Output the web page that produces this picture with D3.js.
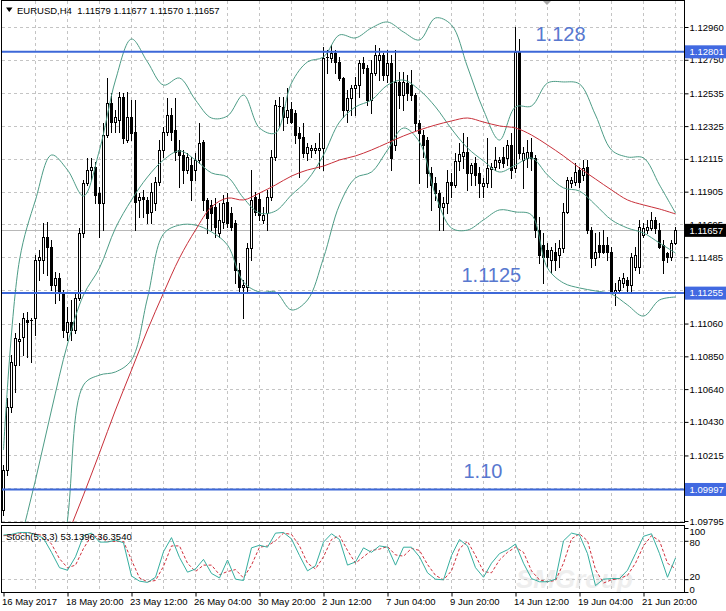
<!DOCTYPE html>
<html><head><meta charset="utf-8">
<script src="https://cdn.jsdelivr.net/npm/d3@7"></script>
<style>body{margin:0;background:#fff}svg{display:block;font-family:"Liberation Sans",Arial,sans-serif}</style>
</head><body>
<svg id="c" width="726" height="611"></svg>
<script>
// ---------- DATA ----------
const symbolTitle = "EURUSD,H4  1.11579 1.11677 1.11570 1.11657";
const stochTitle = "Stoch(5,3,3) 53.1396 36.3540";
const open = [
1.09865,1.10122,1.10525,1.10794,1.10948,1.10974,1.11083,1.11076,1.11096,1.11467,
1.11467,1.11615,1.11551,1.11307,1.11352,1.11256,1.11006,1.11070,1.11019,1.11224,
1.11640,1.11961,1.12044,1.12063,1.11896,1.11832,1.12268,1.12473,1.12351,1.12364,
1.12512,1.12236,1.12383,1.12287,1.11852,1.11871,1.11852,1.11775,1.11832,1.11967,
1.12172,1.12287,1.12396,1.12300,1.12172,1.12140,1.12044,1.12076,1.12044,1.12108,
1.12223,1.11852,1.11820,1.11807,1.11640,1.11711,1.11839,1.11768,1.11704,1.11403,
1.11294,1.11294,1.11544,1.11871,1.11858,1.11724,1.11768,1.11871,1.12127,1.12448,
1.12448,1.12383,1.12435,1.12409,1.12281,1.12255,1.12153,1.12172,1.12172,1.12172,
1.12185,1.12761,1.12761,1.12793,1.12736,1.12633,1.12428,1.12505,1.12569,1.12588,
1.12729,1.12697,1.12492,1.12665,1.12749,1.12781,1.12653,1.12729,1.12204,1.12608,
1.12524,1.12601,1.12588,1.12524,1.12345,1.12268,1.12236,1.12025,1.11961,1.11896,
1.11807,1.11832,1.11967,1.11948,1.12102,1.12134,1.12159,1.12025,1.12089,1.12025,
1.11941,1.11961,1.12050,1.12063,1.12095,1.12127,1.12121,1.12204,1.12057,1.12800,
1.12108,1.12121,1.12159,1.12121,1.11659,1.11563,1.11531,1.11467,1.11518,1.11499,
1.11544,1.11775,1.11961,1.11967,1.12044,1.12012,1.12063,1.11659,1.11480,1.11563,
1.11563,1.11563,1.11518,1.11256,1.11275,1.11320,1.11339,1.11307,1.11422,1.11422,
1.11627,1.11659,1.11672,1.11724,1.11659,1.11563,1.11512,1.11486,1.11579];
const high = [
1.10154,1.10583,1.10859,1.11000,1.11064,1.11128,1.11134,1.11096,1.11499,1.11531,
1.11704,1.11711,1.11595,1.11390,1.11384,1.11275,1.11166,1.11211,1.11256,1.11672,
1.11980,1.12121,1.12121,1.12095,1.11935,1.12345,1.12633,1.12537,1.12428,1.12544,
1.12537,1.12544,1.12492,1.12492,1.11896,1.11916,1.11871,1.11961,1.11999,1.12236,
1.12319,1.12505,1.12441,1.12505,1.12236,1.12172,1.12153,1.12127,1.12153,1.12345,
1.12236,1.11864,1.11852,1.11864,1.11832,1.11884,1.11896,1.11807,1.11724,1.11448,
1.11339,1.11576,1.12044,1.11903,1.11896,1.11807,1.11916,1.12172,1.12492,1.12512,
1.12512,1.12569,1.12480,1.12428,1.12319,1.12345,1.12217,1.12204,1.12217,1.12281,
1.12832,1.12813,1.12845,1.12813,1.12768,1.12640,1.12556,1.12588,1.12640,1.12749,
1.12768,1.12717,1.12749,1.12845,1.12826,1.12793,1.12813,1.12781,1.12813,1.12672,
1.12672,1.12653,1.12685,1.12537,1.12364,1.12300,1.12255,1.12063,1.11999,1.11916,
1.11871,1.12044,1.12025,1.12153,1.12217,1.12281,1.12255,1.12089,1.12127,1.12063,
1.11993,1.12249,1.12089,1.12191,1.12127,1.12191,1.12236,1.12281,1.12960,1.12883,
1.12191,1.12236,1.12249,1.12140,1.11743,1.11640,1.11576,1.11551,1.11576,1.11595,
1.11832,1.11999,1.11999,1.12089,1.12063,1.12108,1.12108,1.11679,1.11640,1.11647,
1.11659,1.11615,1.11551,1.11320,1.11358,1.11384,1.11358,1.11512,1.11551,1.11724,
1.11704,1.11724,1.11775,1.11743,1.11704,1.11595,1.11518,1.11595,1.11677];
const low = [
1.09833,1.10090,1.10493,1.10622,1.10794,1.10859,1.10846,1.10814,1.10987,1.11339,
1.11384,1.11371,1.11275,1.11192,1.11211,1.10974,1.10955,1.10955,1.11000,1.11211,
1.11615,1.11948,1.11980,1.11832,1.11615,1.11659,1.12255,1.12287,1.12287,1.12287,
1.12217,1.12223,1.12236,1.11659,1.11743,1.11743,1.11704,1.11704,1.11788,1.11948,
1.12127,1.12268,1.12236,1.12108,1.11935,1.11961,1.12025,1.11852,1.11980,1.12089,
1.11788,1.11640,1.11659,1.11615,1.11615,1.11672,1.11679,1.11659,1.11320,1.11256,
1.11096,1.11256,1.11467,1.11756,1.11724,1.11704,1.11659,1.11852,1.12108,1.12319,
1.12300,1.12345,1.12345,1.12217,1.11999,1.12127,1.12108,1.12127,1.12153,1.12057,
1.12044,1.12665,1.12736,1.12665,1.12620,1.12383,1.12351,1.12396,1.12396,1.12512,
1.12665,1.12460,1.12409,1.12653,1.12620,1.12620,1.12608,1.12044,1.12172,1.12441,
1.12428,1.12492,1.12492,1.12300,1.11961,1.12127,1.11935,1.11788,1.11852,1.11659,
1.11659,1.11768,1.11871,1.11935,1.12044,1.12057,1.11916,1.11948,1.11948,1.11871,
1.11871,1.11935,1.11935,1.12044,1.12057,1.12063,1.12076,1.11993,1.12031,1.12121,
1.11929,1.12063,1.12044,1.11615,1.11448,1.11320,1.11422,1.11384,1.11403,1.11422,
1.11518,1.11768,1.11935,1.11948,1.11935,1.11980,1.11640,1.11422,1.11435,1.11486,
1.11512,1.11467,1.11256,1.11179,1.11256,1.11294,1.11262,1.11262,1.11403,1.11384,
1.11615,1.11640,1.11659,1.11640,1.11544,1.11384,1.11454,1.11467,1.11570];
const close = [
1.10122,1.10525,1.10814,1.10967,1.10961,1.11096,1.11070,1.11083,1.11467,1.11486,
1.11615,1.11551,1.11307,1.11352,1.11256,1.11019,1.11070,1.11019,1.11224,1.11640,
1.11961,1.12044,1.12063,1.11884,1.11832,1.12268,1.12473,1.12351,1.12383,1.12512,
1.12249,1.12383,1.12281,1.11839,1.11871,1.11858,1.11768,1.11903,1.11967,1.12172,
1.12287,1.12396,1.12287,1.12159,1.12140,1.12044,1.12127,1.11980,1.12108,1.12217,
1.11852,1.11736,1.11768,1.11679,1.11724,1.11832,1.11704,1.11679,1.11403,1.11294,
1.11307,1.11544,1.11852,1.11775,1.11756,1.11756,1.11871,1.12127,1.12460,1.12454,
1.12383,1.12428,1.12351,1.12268,1.12249,1.12153,1.12191,1.12185,1.12185,1.12185,
1.12761,1.12768,1.12793,1.12736,1.12633,1.12428,1.12505,1.12569,1.12588,1.12729,
1.12697,1.12492,1.12665,1.12781,1.12781,1.12653,1.12729,1.12121,1.12608,1.12524,
1.12608,1.12537,1.12524,1.12345,1.12281,1.12204,1.12025,1.11948,1.11896,1.11807,
1.11832,1.11967,1.11948,1.12102,1.12146,1.12159,1.12025,1.12076,1.12012,1.11961,
1.11961,1.12057,1.12063,1.12108,1.12108,1.12089,1.12204,1.12044,1.12800,1.12153,
1.12153,1.12159,1.12121,1.11659,1.11499,1.11486,1.11486,1.11531,1.11467,1.11544,
1.11775,1.11980,1.11980,1.12031,1.11967,1.12057,1.11659,1.11480,1.11518,1.11518,
1.11518,1.11518,1.11262,1.11275,1.11339,1.11352,1.11307,1.11486,1.11499,1.11679,
1.11672,1.11679,1.11724,1.11672,1.11551,1.11467,1.11486,1.11576,1.11657];

// Bollinger bands and red moving average, read every 4th bar
const bandEvery = 4;
const bbUpper = [1.10250,1.11467,1.11852,1.12140,1.12044,1.11877,1.12172,1.12620,1.12883,1.12736,
1.12588,1.12633,1.12492,1.12377,1.12390,1.12524,1.12313,1.12281,1.12601,1.12736,
1.12768,1.12909,1.12890,1.12954,1.12992,1.12928,1.12877,1.13018,1.12973,1.12704,
1.12428,1.12236,1.12448,1.12454,1.12601,1.12608,1.12595,1.12396,1.12172,1.12127,
1.12121,1.11948,1.11768];
const bbMiddle = [1.09225,1.09641,1.10058,1.10506,1.10929,1.11243,1.11416,1.11672,1.11852,1.11999,
1.12108,1.12166,1.12108,1.12025,1.11999,1.11864,1.11768,1.11781,1.11884,1.11980,
1.12140,1.12351,1.12448,1.12492,1.12588,1.12620,1.12556,1.12448,1.12307,1.12185,
1.12102,1.12031,1.12076,1.12121,1.12012,1.11929,1.11909,1.11820,1.11724,1.11672,
1.11640,1.11576,1.11512];
const bbLower = [1.07367,1.08007,1.08520,1.09033,1.09801,1.10666,1.10730,1.10750,1.10827,1.11224,
1.11634,1.11691,1.11691,1.11647,1.11563,1.11326,1.11262,1.11262,1.11147,1.11211,
1.11480,1.11820,1.11993,1.12031,1.12172,1.12313,1.12223,1.11884,1.11672,1.11659,
1.11724,1.11788,1.11775,1.11756,1.11416,1.11320,1.11288,1.11269,1.11249,1.11179,
1.11108,1.11211,1.11230];
const maRed = [1.08648,1.08904,1.09161,1.09449,1.09705,1.09962,1.10231,1.10506,1.10762,1.11019,
1.11256,1.11480,1.11659,1.11807,1.11864,1.11852,1.11896,1.11948,1.12005,1.12044,
1.12069,1.12108,1.12134,1.12172,1.12217,1.12262,1.12300,1.12332,1.12358,1.12377,
1.12351,1.12326,1.12313,1.12268,1.12204,1.12134,1.12057,1.11986,1.11916,1.11852,
1.11820,1.11794,1.11762];

// Stochastic, read every 2nd bar
const stochEvery = 2;
const stochK = [89,90,93,93,90,84,62,38,34,55,88,92,78,78,81,77,25,17,15,23,
63,85,54,31,36,51,29,22,50,20,18,69,73,70,92,93,83,57,33,41,
78,91,82,42,47,69,62,72,70,42,70,70,55,30,20,19,57,82,72,38,
23,45,60,66,75,45,21,16,16,20,80,92,89,60,10,20,21,21,34,60,
87,91,60,23,53.14];
const stochD = [88,89,91,93,91,88,75,52,38,42,68,88,86,79,79,79,50,22,16,18,
40,72,72,45,32,42,42,27,32,35,22,42,70,72,80,92,90,72,45,36,
55,82,88,65,45,55,65,67,71,58,56,68,65,43,26,19,33,68,79,57,
32,30,50,62,70,62,33,19,16,18,45,83,91,80,35,14,19,21,26,45,
72,88,80,45,36.35];

const priceTicks = [1.12960,1.12750,1.12535,1.12325,1.12115,1.11905,1.11695,1.11485,1.11275,
1.11060,1.10850,1.10640,1.10430,1.10215,1.10005,1.09795];
const hiddenTicks = [1.11275,1.10005];   // covered by the level boxes in the reference
const stochTicks = [100,80,20,0];
const stochLevels = [80,20];
const timeLabels = ["16 May 2017","18 May 20:00","23 May 12:00","26 May 04:00","30 May 20:00",
"2 Jun 12:00","7 Jun 04:00","9 Jun 20:00","14 Jun 12:00","19 Jun 04:00","21 Jun 20:00"];
const timeLabelBars = [0,16,32,48,64,80,96,112,128,144,160];
const levelPrices = [1.12801,1.11255,1.09997];
const levelTexts = ["1.128","1.1125","1.10"];
const levelTextBars = [133,114.5,115];
const lastPrice = 1.11657;
const watermark = "SMGroup";

// ---------- LAYOUT ----------
const svg = d3.select("#c");
const L = 1.5, R = 684.5, T = 0.5, B = 522.5, ST = 525.5, SB = 592.5;
const nBars = open.length;
const x = d3.scaleLinear().domain([0, nBars - 1]).range([3.5, 3.5 + 4 * (nBars - 1)]);
const y = d3.scaleLinear().domain([1.09795, 1.12960]).range([521, 27]);
const ys = d3.scaleLinear().domain([0, 100]).range([592, 528]);
const px = v => Math.round(v) + 0.5;

const gridCol = "#c4c4c4", blue = "#3d68d8", bandCol = "#4d9c86", maCol = "#c8303a";

svg.append("rect").attr("width", 726).attr("height", 611).attr("fill", "#fff");

// watermark (faint)
svg.append("text").attr("x", 516).attr("y", 588).attr("font-size", 26).attr("font-style", "italic")
  .attr("font-weight", "bold").attr("fill", "#eeeeee").text(watermark);

svg.append("defs").append("clipPath").attr("id", "mainClip")
  .append("rect").attr("x", 2).attr("y", 1).attr("width", 682).attr("height", 521);
svg.select("defs").append("clipPath").attr("id", "stClip")
  .append("rect").attr("x", 2).attr("y", 526).attr("width", 682).attr("height", 66);

// grid
const grid = svg.append("g").attr("stroke", gridCol).attr("stroke-dasharray", "3,3")
  .attr("shape-rendering", "crispEdges");
grid.selectAll(".hg").data(priceTicks).join("line")
  .attr("x1", 2).attr("x2", 684).attr("y1", d => px(y(d))).attr("y2", d => px(y(d)));
const vBars = d3.range(8, nBars, 8);
grid.selectAll(".vg").data(vBars).join("line")
  .attr("x1", d => x(d)).attr("x2", d => x(d)).attr("y1", 1).attr("y2", 522);
grid.selectAll(".vg2").data(vBars).join("line")
  .attr("x1", d => x(d)).attr("x2", d => x(d)).attr("y1", 526).attr("y2", 592);
grid.selectAll(".sg").data(stochLevels).join("line")
  .attr("x1", 2).attr("x2", 684).attr("y1", d => px(ys(d))).attr("y2", d => px(ys(d)));

// last price line
svg.append("line").attr("x1", 2).attr("x2", 684).attr("y1", px(y(lastPrice))).attr("y2", px(y(lastPrice)))
  .attr("stroke", "#b8b8b8").attr("shape-rendering", "crispEdges");

// candles
const cg = svg.append("g").attr("clip-path", "url(#mainClip)").attr("shape-rendering", "crispEdges");
const idx = d3.range(nBars);
cg.selectAll(".wick").data(idx).join("line")
  .attr("x1", i => x(i)).attr("x2", i => x(i))
  .attr("y1", i => Math.round(y(high[i]))).attr("y2", i => Math.round(y(low[i])) + 1)
  .attr("stroke", "#000");
idx.forEach(i => {
  const top = Math.round(y(Math.max(open[i], close[i])));
  const bot = Math.round(y(Math.min(open[i], close[i])));
  const cx = x(i);
  if (close[i] > open[i] && bot - top >= 2) {
    cg.append("rect").attr("x", cx - 1).attr("y", top + 0.5).attr("width", 2).attr("height", bot - top)
      .attr("fill", "#fff").attr("stroke", "#000");
  } else {
    cg.append("rect").attr("x", cx - 1.5).attr("y", top).attr("width", 3).attr("height", Math.max(bot - top, 1) + (close[i] > open[i] ? 0 : 1))
      .attr("fill", "#000");
  }
});

// indicator lines
const bandBars = d3.range(0, nBars, bandEvery);
const curve = d3.curveCatmullRom.alpha(0.5);
const lineBand = arr => d3.line().x((d, k) => x(bandBars[k])).y(d => y(d)).curve(curve)(arr);
const ig = svg.append("g").attr("clip-path", "url(#mainClip)").attr("fill", "none");
[bbUpper, bbMiddle, bbLower].forEach(arr => {
  ig.append("path").attr("d", lineBand(arr)).attr("stroke", bandCol).attr("stroke-width", 1);
});
ig.append("path").attr("d", lineBand(maRed)).attr("stroke", maCol).attr("stroke-width", 1);

// horizontal level lines
svg.selectAll(".lvl").data(levelPrices).join("line")
  .attr("x1", 2).attr("x2", 684).attr("y1", d => y(d)).attr("y2", d => y(d))
  .attr("stroke", blue).attr("stroke-width", 2);
svg.selectAll(".lvlt").data(levelTexts).join("text")
  .attr("x", (d, i) => x(levelTextBars[i])).attr("y", (d, i) => y(levelPrices[i]) - 11)
  .attr("font-size", 20).attr("fill", "#5878cf").text(d => d);

// stochastic
const stBars = d3.range(0, nBars, stochEvery);
const sLine = d3.line().x((d, k) => x(stBars[k])).y(d => ys(d));
const sg = svg.append("g").attr("clip-path", "url(#stClip)").attr("fill", "none");
sg.append("path").attr("d", sLine(stochD)).attr("stroke", "#d0303c").attr("stroke-dasharray", "3,2");
sg.append("path").attr("d", sLine(stochK)).attr("stroke", "#35ae9f");

// frames
const fr = svg.append("g").attr("fill", "none").attr("stroke", "#000").attr("shape-rendering", "crispEdges");
fr.append("rect").attr("x", L).attr("y", T).attr("width", R - L).attr("height", B - T);
fr.append("rect").attr("x", L).attr("y", ST).attr("width", R - L).attr("height", SB - ST);

// axes
const fontSize = 9.5;
const fmt = d3.format(".5f");
const yAxis = d3.axisRight(y).tickValues(priceTicks)
  .tickFormat(d => hiddenTicks.includes(d) ? "" : fmt(d)).tickSize(4).tickPadding(1);
const ya = svg.append("g").attr("transform", `translate(${R},0)`).call(yAxis);
ya.select(".domain").remove();
ya.selectAll("text").attr("font-size", fontSize).attr("font-family", "Liberation Sans, Arial").attr("fill", "#000");
ya.selectAll("line").attr("stroke", "#000");

const sAxis = d3.axisRight(ys).tickValues(stochTicks).tickSize(4).tickPadding(1);
const sa = svg.append("g").attr("transform", `translate(${R},0)`).call(sAxis);
sa.select(".domain").remove();
// labels nudged (as in the reference) so that they stay inside the panel
const stochLabelShift = {100: 3, 80: 1.5, 20: -2.5, 0: -3};
sa.selectAll("text").attr("font-size", fontSize).attr("font-family", "Liberation Sans, Arial").attr("fill", "#000")
  .attr("y", d => stochLabelShift[d]).attr("dy", "0.32em");
sa.selectAll("line").attr("stroke", "#000");

const xAxis = d3.axisBottom(x).tickValues(timeLabelBars).tickFormat((d, i) => timeLabels[i]).tickSize(4).tickPadding(2);
const xa = svg.append("g").attr("transform", `translate(0,${SB})`).call(xAxis);
xa.select(".domain").remove();
xa.selectAll("text").attr("font-size", fontSize).attr("font-family", "Liberation Sans, Arial")
  .attr("fill", "#000").attr("text-anchor", "start").attr("dx", -2);
xa.selectAll("line").attr("stroke", "#000");

// price boxes on the axis
const boxes = svg.append("g");
levelPrices.forEach(p => {
  const yy = y(p);
  boxes.append("rect").attr("x", 685).attr("y", yy - 6.5).attr("width", 41).attr("height", 13).attr("fill", "#4169e1");
  boxes.append("text").attr("x", 689.5).attr("y", yy).attr("dy", "0.34em").attr("font-size", fontSize)
    .attr("fill", "#fff").text(fmt(p));
});
const yl = y(lastPrice);
boxes.append("rect").attr("x", 685).attr("y", yl - 6.5).attr("width", 41).attr("height", 13).attr("fill", "#000");
boxes.append("text").attr("x", 689.5).attr("y", yl).attr("dy", "0.34em").attr("font-size", fontSize)
  .attr("fill", "#fff").text(fmt(lastPrice));

// titles
svg.append("path").attr("d", "M6,7.5 L12.5,7.5 L9.25,12 Z").attr("fill", "#000");
svg.append("text").attr("x", 17).attr("y", 13.5).attr("font-size", fontSize).attr("fill", "#000")
  .style("white-space", "pre").text(symbolTitle);
svg.append("text").attr("x", 6).attr("y", 539.5).attr("font-size", fontSize).attr("fill", "#000").text(stochTitle);
// chart shift marker
svg.append("path").attr("d", "M543,1 L551,1 L547,5 Z").attr("fill", "#a8a8a8");
</script>
</body></html>
